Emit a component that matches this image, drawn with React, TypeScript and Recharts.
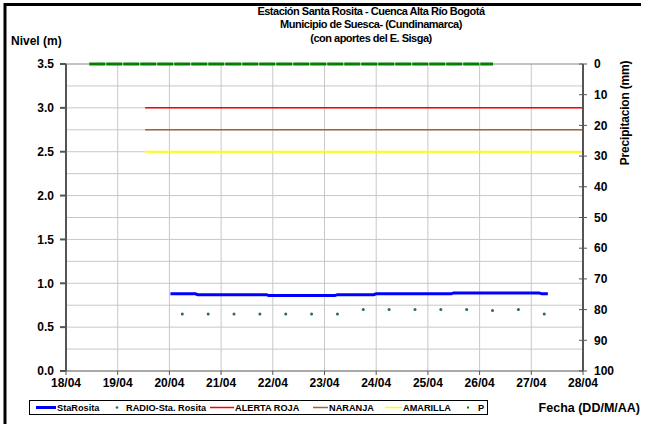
import React from 'react';
import { ComposedChart, Line, Scatter, XAxis, YAxis, CartesianGrid, ReferenceLine } from 'recharts';

const FONT = '"Liberation Sans", Arial, sans-serif';

// ejes
const dias = [18, 19, 20, 21, 22, 23, 24, 25, 26, 27, 28];
const nivelTicks = [0, 0.5, 1, 1.5, 2, 2.5, 3, 3.5];
const nivelGrid = [0.25, 0.5, 0.75, 1, 1.25, 1.5, 1.75, 2, 2.25, 2.5, 2.75, 3, 3.25];
const precipTicks = [0, 10, 20, 30, 40, 50, 60, 70, 80, 90, 100];

// series (fecha en dias de abril)
const staRositaFechas = [20.02, 20.5, 20.55, 21.88, 21.92, 23.2, 23.25, 23.95, 24.0, 25.45, 25.5, 27.15, 27.2, 27.32];
const staRositaNivel = [0.88, 0.88, 0.87, 0.87, 0.86, 0.86, 0.87, 0.87, 0.88, 0.88, 0.89, 0.89, 0.88, 0.88];

const radioFechas = [20.25, 20.75, 21.25, 21.75, 22.25, 22.75, 23.25, 23.75, 24.25, 24.75, 25.25, 25.75, 26.25, 26.75, 27.25];
const radioNivel = [0.65, 0.65, 0.65, 0.65, 0.65, 0.65, 0.65, 0.7, 0.7, 0.7, 0.7, 0.7, 0.69, 0.7, 0.65];

const umbralFechas = [19.53, 28];
const alertaRoja = [3.0, 3.0];
const naranja = [2.75, 2.75];
const amarilla = [2.5, 2.5];

const pFechas = [18.45, 26.26];
const pValores = [0, 0];

const toPts = (t: number[], v: number[]) => t.map((x, i) => ({ t: x, v: v[i] }));

const fmtDia = (d: number) => `${d}/04`;

const PrecipTick = (props: any) => {
  const { x, y, payload } = props;
  return (
    <g>
      <line x1={x - 4} x2={x + 4} y1={y} y2={y} stroke="#555" />
      <text x={x + 11} y={y} dy="0.35em" fontFamily={FONT} fontSize={12} fontWeight="bold" fill="#000">
        {payload.value}
      </text>
    </g>
  );
};

const RadioDot = (props: any) => <circle cx={props.cx} cy={props.cy} r={1.5} fill="#2a6b5c" />;

const tickStyle = { fontFamily: FONT, fontSize: 12, fontWeight: 'bold', fill: '#000' };

export default function App() {
  return (
    <div style={{ position: 'absolute', left: 0, top: 0, width: 645, height: 424, background: '#fff', overflow: 'hidden' }}>
      <ComposedChart width={645} height={424} margin={{ top: 64, right: 0, bottom: 23, left: 0 }}>
        <CartesianGrid horizontal={false} stroke="#c8c8c8" xAxisId="x" yAxisId="nivel" />
        <XAxis
          xAxisId="x"
          dataKey="t"
          type="number"
          domain={[18, 28]}
          ticks={dias}
          tickFormatter={fmtDia}
          interval={0}
          allowDataOverflow
          height={30}
          tickSize={4}
          tickMargin={3}
          stroke="#555"
          tick={tickStyle}
        />
        <YAxis
          yAxisId="nivel"
          type="number"
          domain={[0, 3.5]}
          ticks={nivelTicks}
          tickFormatter={(v: number) => v.toFixed(1)}
          interval={0}
          width={66}
          tickSize={6}
          tickMargin={6}
          stroke="#555"
          strokeWidth={2}
          tick={tickStyle}
        />
        <YAxis
          yAxisId="precip"
          orientation="right"
          type="number"
          domain={[0, 100]}
          reversed
          ticks={precipTicks}
          interval={0}
          width={62}
          tickSize={0}
          tickMargin={0}
          stroke="#555"
          strokeWidth={2}
          tick={<PrecipTick />}
        />
        {nivelGrid.map((g) => (
          <ReferenceLine key={g} xAxisId="x" yAxisId="nivel" y={g} stroke="#c8c8c8" />
        ))}
        <ReferenceLine xAxisId="x" yAxisId="nivel" y={3.5} stroke="#888" />
        <Line
          xAxisId="x"
          yAxisId="nivel"
          data={toPts(umbralFechas, amarilla)}
          dataKey="v"
          stroke="#ffff00"
          strokeWidth={2}
          dot={false}
          isAnimationActive={false}
        />
        <Line
          xAxisId="x"
          yAxisId="nivel"
          data={toPts(umbralFechas, naranja)}
          dataKey="v"
          stroke="#99663a"
          strokeWidth={1.5}
          dot={false}
          isAnimationActive={false}
        />
        <Line
          xAxisId="x"
          yAxisId="nivel"
          data={toPts(umbralFechas, alertaRoja)}
          dataKey="v"
          stroke="#ff0000"
          strokeWidth={1.5}
          dot={false}
          isAnimationActive={false}
        />
        <Line
          xAxisId="x"
          yAxisId="nivel"
          data={toPts(staRositaFechas, staRositaNivel)}
          dataKey="v"
          stroke="#0000ff"
          strokeWidth={3}
          dot={false}
          isAnimationActive={false}
        />
        <Scatter
          xAxisId="x"
          yAxisId="nivel"
          data={toPts(radioFechas, radioNivel)}
          dataKey="v"
          shape={<RadioDot />}
          isAnimationActive={false}
        />
        <Line
          xAxisId="x"
          yAxisId="precip"
          data={toPts(pFechas, pValores)}
          dataKey="v"
          stroke="#008000"
          strokeWidth={3}
          strokeDasharray="16 1"
          dot={false}
          isAnimationActive={false}
        />
      </ComposedChart>
      <svg width={645} height={424} style={{ position: 'absolute', left: 0, top: 0, pointerEvents: 'none' }}>
        <line x1={4} y1={4.5} x2={641} y2={4.5} stroke="#000" strokeWidth={3} />
        <line x1={5} y1={3} x2={5} y2={424} stroke="#000" strokeWidth={3} />
        <g fontFamily={FONT} fontWeight="bold" fill="#000">
          <text x={371} y={15} textAnchor="middle" fontSize={11} letterSpacing={-0.5}>
            Estación Santa Rosita - Cuenca Alta Río Bogotá
          </text>
          <text x={371} y={28} textAnchor="middle" fontSize={11} letterSpacing={-0.5}>
            Municipio de Suesca- (Cundinamarca)
          </text>
          <text x={371} y={42} textAnchor="middle" fontSize={11} letterSpacing={-0.5}>
            (con aportes del  E. Sisga)
          </text>
          <text x={11} y={45} fontSize={12}>Nivel (m)</text>
          <text x={629} y={113} textAnchor="middle" fontSize={12} letterSpacing={-0.2} transform="rotate(-90 629 113)">
            Precipitacion (mm)
          </text>
          <text x={640} y={412} textAnchor="end" fontSize={12.5}>Fecha (DD/M/AA)</text>
        </g>
        <rect x={29.5} y={400.5} width={458} height={14} fill="#fff" stroke="#000" />
        <g fontFamily={FONT} fontWeight="bold" fontSize={9.2} fill="#000">
          <line x1={36} x2={56} y1={407.5} y2={407.5} stroke="#0000ff" strokeWidth={3} />
          <text x={57} y={411}>StaRosita</text>
          <circle cx={117} cy={407.5} r={1.3} fill="#2a6b5c" />
          <text x={126} y={411}>RADIO-Sta. Rosita</text>
          <line x1={210} x2={234} y1={407.5} y2={407.5} stroke="#ff0000" strokeWidth={1.5} />
          <text x={235} y={411}>ALERTA ROJA</text>
          <line x1={313} x2={328} y1={407.5} y2={407.5} stroke="#99663a" strokeWidth={1.5} />
          <text x={329} y={411}>NARANJA</text>
          <line x1={385} x2={402} y1={407.5} y2={407.5} stroke="#ffff00" strokeWidth={1.5} />
          <text x={403} y={411}>AMARILLA</text>
          <rect x={467} y={406.5} width={2} height={2} fill="#008000" />
          <text x={478} y={411}>P</text>
        </g>
      </svg>
    </div>
  );
}
